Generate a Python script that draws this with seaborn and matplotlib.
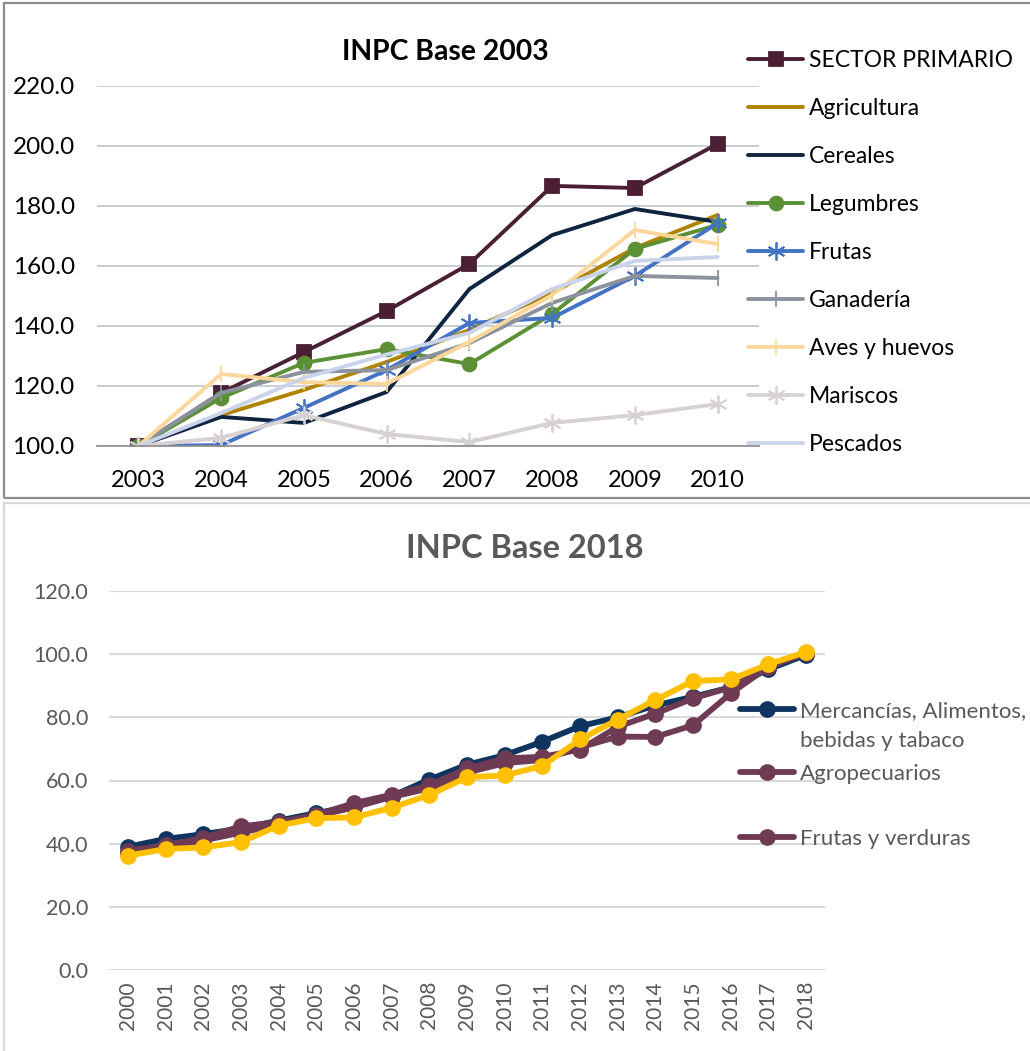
import matplotlib
matplotlib.use("Agg")
import matplotlib.pyplot as plt
import seaborn as sns
import pandas as pd
from matplotlib.lines import Line2D
from matplotlib.patches import Rectangle
from matplotlib.legend_handler import HandlerLine2D

# ---- data: INPC base 2003 ----
years_2003 = ["2003", "2004", "2005", "2006", "2007", "2008", "2009", "2010"]
sector_primario = [100.0, 117.7, 131.3, 145.0, 160.7, 186.7, 186.0, 200.7]
agricultura = [100.0, 110.3, 118.7, 128.0, 138.7, 151.0, 166.0, 177.0]
cereales = [100.0, 109.7, 107.7, 118.0, 152.3, 170.3, 179.0, 174.7]
legumbres = [100.0, 116.0, 127.7, 132.3, 127.3, 144.0, 165.7, 173.7]
frutas = [100.0, 100.3, 112.7, 125.3, 141.0, 142.7, 156.7, 174.3]
ganaderia = [100.0, 117.7, 124.7, 125.3, 134.3, 147.7, 156.7, 156.0]
aves_huevos = [100.0, 124.0, 121.3, 120.7, 134.7, 150.3, 172.0, 167.3]
mariscos = [100.0, 102.7, 110.3, 104.0, 101.3, 107.7, 110.3, 114.0]
pescados = [100.0, 111.0, 122.7, 130.5, 137.7, 152.3, 161.7, 163.0]

# ---- data: INPC base 2018 ----
years_2018 = [str(y) for y in range(2000, 2019)]
mercancias = [39.0, 41.5, 43.0, 44.8, 47.3, 49.7, 51.8, 55.0, 60.3, 65.0,
              68.0, 72.3, 77.2, 80.0, 83.8, 86.5, 89.5, 95.2, 99.8]
agropecuarios = [37.8, 39.5, 41.8, 45.5, 46.8, 49.2, 52.8, 55.5, 58.5, 63.8,
                 67.0, 67.5, 69.8, 77.0, 81.2, 86.0, 89.5, 96.0, 100.3]
frutas_verduras = [37.0, 39.0, 41.0, 43.5, 46.0, 48.7, 51.5, 54.8, 57.5, 62.5,
                   65.5, 66.5, 70.5, 73.9, 73.8, 77.5, 87.6, 96.0, 100.5]
serie_amarilla = [36.2, 38.3, 38.8, 40.5, 45.7, 48.1, 48.3, 51.4, 55.4, 61.0,
                  61.6, 64.6, 73.0, 79.3, 85.5, 91.5, 92.0, 96.8, 100.7]

W, H = 1030, 1051
sns.set_theme(style="white")
plt.rcParams["font.family"] = ["Lato", "DejaVu Sans"]

fig = plt.figure(figsize=(W / 100, H / 100), dpi=100)
fig.patch.set_facecolor("white")


def fx(px):
    return px / W


def fy(py):
    return 1 - py / H


class RaisedHandler(HandlerLine2D):
    # Excel puts the legend key next to the first line of a wrapped label
    def __init__(self, raise_by, **kw):
        super().__init__(**kw)
        self.raise_by = raise_by

    def create_artists(self, legend, orig_handle, xdescent, ydescent,
                       width, height, fontsize, trans):
        arts = super().create_artists(legend, orig_handle, xdescent, ydescent,
                                      width, height, fontsize, trans)
        for a in arts:
            a.set_ydata([y + self.raise_by * fontsize for y in a.get_ydata()])
        return arts


# panel frames
fig.patches.append(Rectangle((fx(4), fy(498)), fx(1040), 495 / H, transform=fig.transFigure,
                             fill=False, edgecolor="#8C8C8C", linewidth=1.6, zorder=0))
fig.patches.append(Rectangle((fx(4), fy(1058)), fx(1040), 555 / H, transform=fig.transFigure,
                             fill=False, edgecolor="#D9D9D9", linewidth=1.6, zorder=0))

# ================= top chart =================
ax1 = fig.add_axes([fx(97), fy(446), fx(759 - 97), (446 - 86) / H])

top_series = [
    ("SECTOR PRIMARIO", sector_primario, "#4A1F33", "s", 10),
    ("Agricultura", agricultura, "#B08300", None, 0),
    ("Cereales", cereales, "#0F243E", None, 0),
    ("Legumbres", legumbres, "#5B9134", "o", 10),
    ("Frutas", frutas, "#4472C4", (6, 2, 0), 13),
    ("Ganadería", ganaderia, "#8B929E", "|", 12),
    ("Aves y huevos", aves_huevos, "#FCD79B", "|", 12),
    ("Mariscos", mariscos, "#D8D1D3", (6, 2, 0), 13),
    ("Pescados", pescados, "#C9D3EA", None, 0),
]

pos_top = list(range(len(years_2003)))
for name, vals, color, marker, ms in top_series:
    df = pd.DataFrame({"x": pos_top, "y": vals})
    sns.lineplot(data=df, x="x", y="y", ax=ax1, color=color, linewidth=2.8,
                 marker=marker, markersize=ms, markeredgecolor=color,
                 markeredgewidth=1.3, label=name)

ax1.set_xlim(-0.5, len(years_2003) - 0.5)
ax1.set_ylim(100, 220)
ax1.set_yticks(range(100, 221, 20))
ax1.set_yticklabels([f"{v:.1f}" for v in range(100, 221, 20)])
ax1.set_xticks(pos_top)
ax1.set_xticklabels(years_2003)
ax1.set_xticks([p + 0.5 for p in range(-1, len(years_2003))], minor=True)
ax1.tick_params(axis="x", which="major", length=0, pad=17, labelsize=17, colors="black")
ax1.tick_params(axis="x", which="minor", length=7, width=1, color="#8C8C8C")
ax1.tick_params(axis="y", length=0, pad=16, labelsize=17.5, colors="black")
ax1.yaxis.grid(True, color="#CACCD6", linewidth=1.4)
ax1.set_axisbelow(True)
for s in ["top", "right", "left"]:
    ax1.spines[s].set_visible(False)
ax1.spines["bottom"].set_color("#8C8C8C")
ax1.spines["bottom"].set_linewidth(1.2)
ax1.set_xlabel("")
ax1.set_ylabel("")

fig.text(fx(445), fy(52), "INPC Base 2003", ha="center", va="center",
         fontsize=20.4, fontweight="bold", color="black")

leg1 = ax1.legend(loc="upper left", bbox_to_anchor=(fx(748), fy(50)),
                  bbox_transform=fig.transFigure, frameon=False, fontsize=16.5,
                  handlelength=2.4, handletextpad=0.25, labelspacing=1.18,
                  borderpad=0, borderaxespad=0)
for t in leg1.get_texts():
    t.set_color("black")

# ================= bottom chart =================
ax2 = fig.add_axes([fx(109), fy(970), fx(825 - 109), (970 - 591) / H])

pos_bot = list(range(len(years_2018)))
bottom_series = [
    ("Mercancías, Alimentos,\nbebidas y tabaco", mercancias, "#0E3560"),
    ("Agropecuarios", agropecuarios, "#6E3A54"),
    ("Frutas y verduras", frutas_verduras, "#6E3A54"),
    ("_amarilla", serie_amarilla, "#FFC000"),
]
for name, vals, color in bottom_series:
    df = pd.DataFrame({"x": pos_bot, "y": vals})
    sns.lineplot(data=df, x="x", y="y", ax=ax2, color=color, linewidth=4.2,
                 marker="o", markersize=11, markeredgecolor=color,
                 markeredgewidth=1, label=name)

ax2.set_xlim(-0.5, len(years_2018) - 0.5)
ax2.set_ylim(0, 120)
ax2.set_yticks(range(0, 121, 20))
ax2.set_yticklabels([f"{v:.1f}" for v in range(0, 121, 20)])
ax2.set_xticks(pos_bot)
ax2.set_xticklabels(years_2018, rotation=90)
ax2.tick_params(axis="x", length=0, pad=8, labelsize=15, colors="#595959")
ax2.tick_params(axis="y", length=0, pad=15, labelsize=15.5, colors="#595959")
ax2.yaxis.grid(True, color="#D9D9D9", linewidth=1.5)
ax2.set_axisbelow(True)
for s in ["top", "right", "left", "bottom"]:
    ax2.spines[s].set_visible(False)
ax2.set_xlabel("")
ax2.set_ylabel("")

fig.text(fx(525), fy(549), "INPC Base 2018", ha="center", va="center",
         fontsize=23.5, fontweight="bold", color="#595959")

h, l = ax2.get_legend_handles_labels()
blank = Line2D([], [], linestyle="none")
handles2 = [h[0], h[1], blank, h[2]]
labels2 = [l[0], l[1], " ", l[2]]
leg2 = ax2.legend(handles2, labels2, loc="upper left", bbox_to_anchor=(fx(740), fy(701)),
                  bbox_transform=fig.transFigure, frameon=False, fontsize=16,
                  handlelength=2.45, handletextpad=0.25, labelspacing=0.56,
                  borderpad=0, borderaxespad=0,
                  handler_map={h[0]: RaisedHandler(0.78)})
texts2 = leg2.get_texts()
texts2[0].set_linespacing(1.65)
for t in texts2:
    t.set_color("#595959")

fig.savefig("out.png", dpi=100, facecolor="white")
